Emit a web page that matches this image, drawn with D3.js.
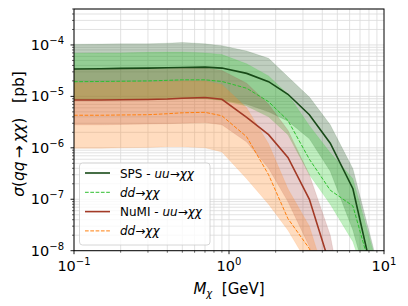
<!DOCTYPE html>
<html>
<head>
<meta charset="utf-8">
<script src="https://cdn.jsdelivr.net/npm/d3@7"></script>
<style>
  body { margin: 0; background: #fff; }
  text { font-family: "DejaVu Sans", sans-serif; fill: #000; }
</style>
</head>
<body>
<svg id="chart" width="408" height="306"></svg>
<script>
// mass points (GeV)
const mass = [0.1, 0.15, 0.2, 0.3, 0.4, 0.5, 0.7, 0.9, 1.3, 1.8, 2.4, 3.3, 4.5, 6.3, 8.5, 10];

// SPS - uu -> chi chi
const spsUU   = [3.4e-5, 3.45e-5, 3.5e-5, 3.55e-5, 3.6e-5, 3.65e-5, 3.7e-5, 3.55e-5, 2.8e-5, 1.93e-5, 1.1e-5, 4.4e-6, 1.23e-6, 1.6e-7, 3e-9, 3e-10];
const spsUUHi = [1.03e-4, 1.04e-4, 1.05e-4, 1.05e-4, 1.08e-4, 1.12e-4, 1.05e-4, 9.7e-5, 7.6e-5, 5.5e-5, 2.4e-5, 9.7e-6, 2.8e-6, 3.9e-7, 1.2e-8, 1e-9];
const spsUULo = [8.5e-6, 8.6e-6, 8.6e-6, 8.7e-6, 8.8e-6, 9e-6, 9e-6, 8.5e-6, 7e-6, 5e-6, 3.3e-6, 1.5e-6, 3.5e-7, 2.5e-8, 1e-9, 1e-10];

// SPS - dd -> chi chi
const spsDD   = [1.93e-5, 1.95e-5, 1.97e-5, 2.0e-5, 2.05e-5, 2.1e-5, 2.1e-5, 1.95e-5, 1.44e-5, 7.9e-6, 3.4e-6, 6e-7, 1.5e-7, 7.4e-8, 3e-9, 1e-10];
const spsDDHi = [6.9e-5, 7e-5, 7e-5, 7.2e-5, 7.3e-5, 7.3e-5, 7e-5, 6.5e-5, 4.3e-5, 2.5e-5, 1.1e-5, 2.7e-6, 8e-7, 2.5e-7, 1e-8, 5e-10];
const spsDDLo = [8.6e-6, 8.6e-6, 8.7e-6, 8.8e-6, 8.9e-6, 9e-6, 9e-6, 8.3e-6, 6.5e-6, 4e-6, 1.8e-6, 3e-7, 8e-8, 1.5e-8, 1e-9, 1e-10];

// NuMI - uu -> chi chi
const numiUU   = [8.5e-6, 8.5e-6, 8.6e-6, 8.7e-6, 8.9e-6, 9.2e-6, 9.5e-6, 8.8e-6, 3.9e-6, 1.8e-6, 6.5e-7, 1e-7, 5e-9, 1e-10, 1e-11, 1e-11];
const numiUUHi = [3.4e-5, 3.4e-5, 3.45e-5, 3.5e-5, 3.5e-5, 3.55e-5, 3.6e-5, 3.2e-5, 1.8e-5, 7e-6, 2.2e-6, 3e-7, 2e-8, 1e-10, 1e-11, 1e-11];
const numiUULo = [2.8e-6, 2.8e-6, 2.85e-6, 2.9e-6, 2.95e-6, 3e-6, 3.1e-6, 2.8e-6, 1.3e-6, 4e-7, 9e-8, 1.2e-8, 5e-10, 1e-11, 1e-11, 1e-11];

// NuMI - dd -> chi chi
const numiDD   = [4.3e-6, 4.3e-6, 4.35e-6, 4.4e-6, 4.6e-6, 4.8e-6, 4.9e-6, 4.2e-6, 1.64e-6, 3e-7, 4.2e-8, 1.1e-8, 1e-9, 1e-11, 1e-11, 1e-11];
const numiDDHi = [1.85e-5, 1.85e-5, 1.9e-5, 1.9e-5, 1.95e-5, 2e-5, 2e-5, 1.7e-5, 6e-6, 1.2e-6, 1.6e-7, 3e-8, 1.5e-9, 1e-11, 1e-11, 1e-11];
const numiDDLo = [9.8e-7, 9.8e-7, 1e-6, 1.02e-6, 1.05e-6, 1.05e-6, 1e-6, 8.3e-7, 2.5e-7, 8e-8, 2.5e-8, 5e-9, 5e-10, 1e-11, 1e-11, 1e-11];

const xTicks = [0.1, 1, 10];
const xTickExp = ["\u22121", "0", "1"];
const yTicks = [1e-8, 1e-7, 1e-6, 1e-5, 1e-4];
const yTickExp = ["\u22128", "\u22127", "\u22126", "\u22125", "\u22124"];

const svg = d3.select("#chart");
const box = { left: 74, right: 384, top: 9, bottom: 250.7 };

const x = d3.scaleLog().domain([0.1, 10]).range([box.left, box.right]);
const y = d3.scaleLog().domain([1e-8, 5e-4]).range([box.bottom, box.top]);

svg.append("defs").append("clipPath").attr("id", "clip")
  .append("rect").attr("x", box.left).attr("y", box.top)
  .attr("width", box.right - box.left).attr("height", box.bottom - box.top);

// grid (major + minor)
const grid = svg.append("g");
let xGrid = [];
for (let d = 0.1; d < 9; d *= 10)
  for (let k = 1; k <= 9; k++) xGrid.push(d * k);
let yGrid = [];
for (let d = 1e-8; d < 1e-3; d *= 10)
  for (let k = 1; k <= 9; k++) if (d * k <= 5e-4) yGrid.push(d * k);

grid.selectAll(".gx").data(xGrid).enter().append("line")
  .attr("x1", d => x(d)).attr("x2", d => x(d))
  .attr("y1", box.top).attr("y2", box.bottom)
  .style("stroke", "#dadada").style("stroke-width", 0.8);
grid.selectAll(".gy").data(yGrid).enter().append("line")
  .attr("x1", box.left).attr("x2", box.right)
  .attr("y1", d => y(d)).attr("y2", d => y(d))
  .style("stroke", "#dadada").style("stroke-width", 0.8);

// bands and lines
const series = [
  { mid: spsUU, lo: spsUULo, hi: spsUUHi, band: "#2a5e2a", bandOp: 0.3, line: "#174a17", width: 1.6, dash: null },
  { mid: spsDD, lo: spsDDLo, hi: spsDDHi, band: "#32cd32", bandOp: 0.3, line: "#2fbf2f", width: 1.0, dash: "3.7,1.6" },
  { mid: numiUU, lo: numiUULo, hi: numiUUHi, band: "#a5403a", bandOp: 0.25, line: "#a33a26", width: 1.6, dash: null },
  { mid: numiDD, lo: numiDDLo, hi: numiDDHi, band: "#ff8c2a", bandOp: 0.3, line: "#ff7f0e", width: 1.0, dash: "3.7,1.6" }
];

const plot = svg.append("g").attr("clip-path", "url(#clip)");

series.forEach(s => {
  const area = d3.area()
    .x((d, i) => x(mass[i]))
    .y0((d, i) => y(s.lo[i]))
    .y1((d, i) => y(s.hi[i]));
  plot.append("path").datum(mass)
    .attr("d", area)
    .style("fill", s.band).style("fill-opacity", s.bandOp)
    .style("stroke", s.band).style("stroke-opacity", 0.15).style("stroke-width", 0.8);
});

series.forEach(s => {
  const line = d3.line()
    .x((d, i) => x(mass[i]))
    .y((d, i) => y(s.mid[i]));
  plot.append("path").datum(mass)
    .attr("d", line)
    .style("fill", "none").style("stroke", s.line)
    .style("stroke-width", s.width)
    .style("stroke-dasharray", s.dash);
});

// frame
svg.append("rect").attr("x", box.left).attr("y", box.top)
  .attr("width", box.right - box.left).attr("height", box.bottom - box.top)
  .style("fill", "none").style("stroke", "#000").style("stroke-width", 1);

// ticks
const ax = svg.append("g");
xGrid.concat([10]).forEach(d => {
  const major = xTicks.some(t => Math.abs(t - d) / t < 1e-6);
  ax.append("line").attr("x1", x(d)).attr("x2", x(d))
    .attr("y1", box.bottom).attr("y2", box.bottom + (major ? 3.5 : 2))
    .style("stroke", "#000").style("stroke-width", major ? 0.9 : 0.6);
});
yGrid.forEach(d => {
  const major = yTicks.some(t => Math.abs(t - d) / t < 1e-6);
  ax.append("line").attr("x1", box.left).attr("x2", box.left - (major ? 3.5 : 2))
    .attr("y1", y(d)).attr("y2", y(d))
    .style("stroke", "#000").style("stroke-width", major ? 0.9 : 0.6);
});

// tick labels
xTicks.forEach((t, i) => {
  const tx = ax.append("text").attr("x", x(t)).attr("y", 271)
    .attr("text-anchor", "middle").style("font-size", "14.5px");
  tx.append("tspan").text("10");
  tx.append("tspan").attr("dy", -6).style("font-size", "10px").text(xTickExp[i]);
});
yTicks.forEach((t, i) => {
  const tx = ax.append("text").attr("x", 64).attr("y", y(t) + 5)
    .attr("text-anchor", "end").style("font-size", "14.5px");
  tx.append("tspan").text("10");
  tx.append("tspan").attr("dy", -6).style("font-size", "10px").text(yTickExp[i]);
});

// axis labels
const xl = svg.append("text").attr("x", 229).attr("y", 294)
  .attr("text-anchor", "middle").style("font-size", "15px");
xl.append("tspan").style("font-style", "italic").text("M");
xl.append("tspan").attr("dy", 3).style("font-size", "10px").style("font-style", "italic").text("\u03c7");
xl.append("tspan").attr("dy", -3).text("\u00a0\u00a0[GeV]");

const yl = svg.append("text").attr("transform", "translate(24,134) rotate(-90)")
  .attr("text-anchor", "middle").style("font-size", "15.5px");
yl.append("tspan").style("font-style", "italic").text("\u03c3");
yl.append("tspan").text("(");
yl.append("tspan").style("font-style", "italic").text("qq");
yl.append("tspan").text("\u2009\u2192\u2009");
yl.append("tspan").style("font-style", "italic").text("\u03c7\u03c7");
yl.append("tspan").text(")\u00a0\u00a0\u00a0[pb]");

// legend
const lg = svg.append("g");
lg.append("rect").attr("x", 79.5).attr("y", 163).attr("width", 130.5).attr("height", 82)
  .attr("rx", 3).style("fill", "#fff").style("fill-opacity", 0.8)
  .style("stroke", "#cccccc").style("stroke-width", 0.8);

const legendItems = [
  { s: series[0], prefix: "SPS - " },
  { s: series[1], prefix: "" },
  { s: series[2], prefix: "NuMI - " },
  { s: series[3], prefix: "" }
];
legendItems.forEach((it, i) => {
  const ly = 173 + i * 19.3;
  lg.append("line").attr("x1", 85).attr("x2", 110).attr("y1", ly).attr("y2", ly)
    .style("stroke", it.s.line).style("stroke-width", it.s.width)
    .style("stroke-dasharray", it.s.dash);
  const t = lg.append("text").attr("x", 120).attr("y", ly + 4.5).style("font-size", "12px");
  if (it.prefix) t.append("tspan").text(it.prefix);
  t.append("tspan").style("font-style", "italic").text(i % 2 === 0 ? "uu" : "dd");
  t.append("tspan").text("\u2192");
  t.append("tspan").style("font-style", "italic").text("\u03c7\u03c7");
});
</script>
</body>
</html>
